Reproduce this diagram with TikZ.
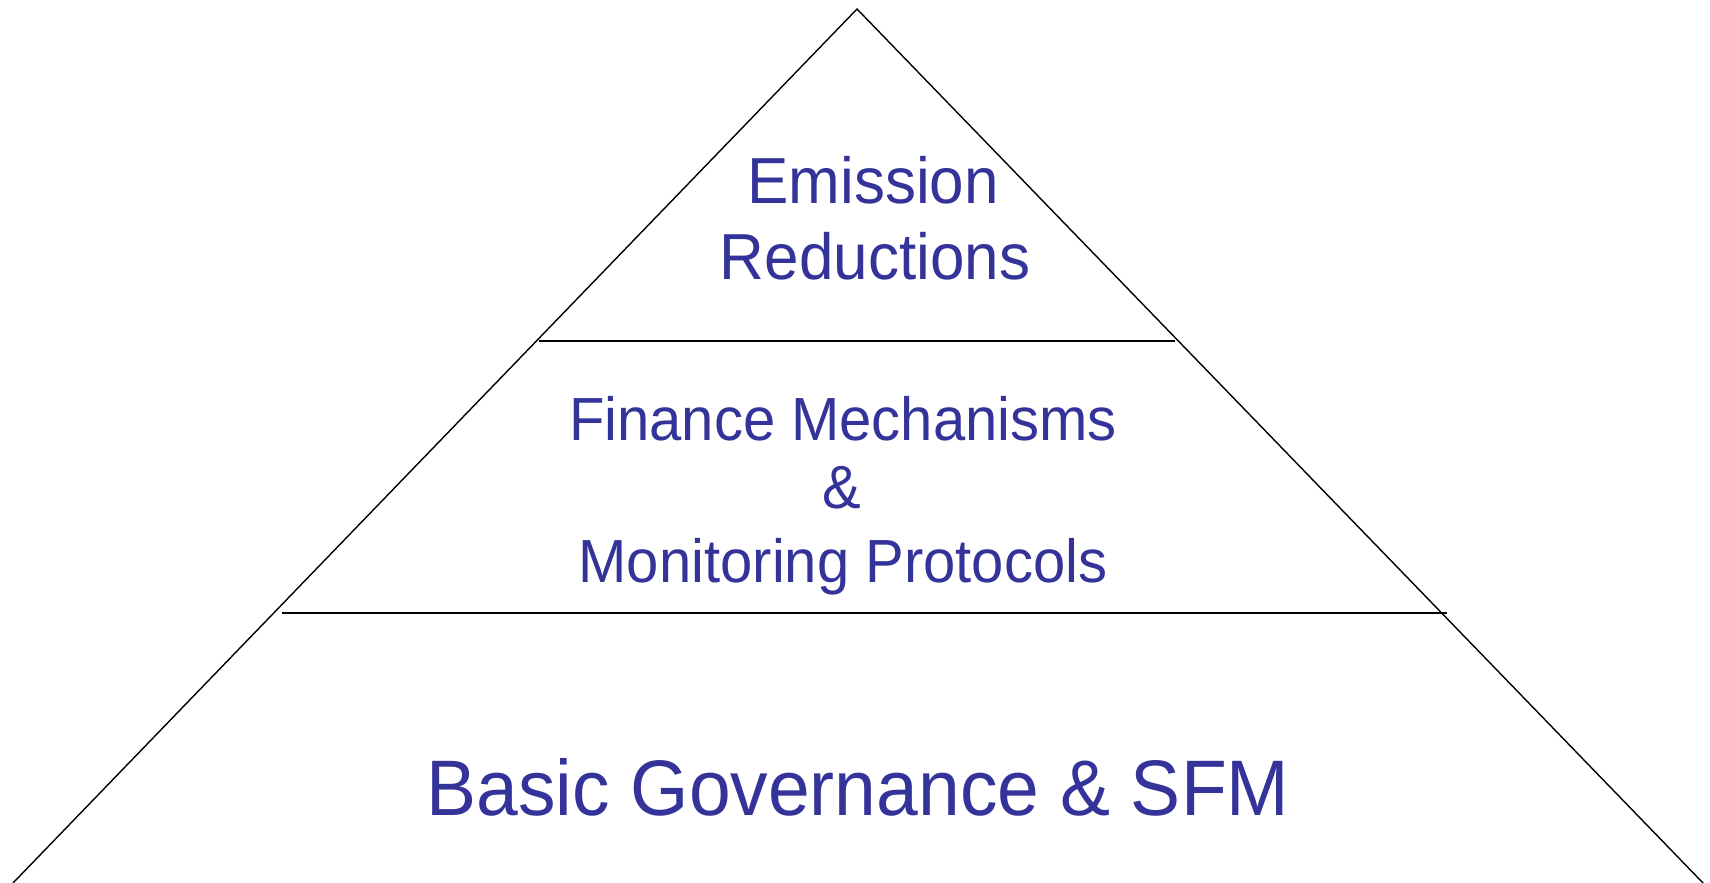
\documentclass[tikz,border=0pt]{standalone}
\usepackage{fontspec}
\setmainfont{Liberation Sans}
\definecolor{tiertext}{RGB}{51,51,153}
% slightly tall lettering
\newcommand{\tallline}[1]{\scalebox{1}[1.05]{#1}}
\begin{document}
\begin{tikzpicture}[x=1pt,y=-1pt,
  tier/.style={anchor=base, inner sep=0pt, text=tiertext,
    font=\fontsize{#1}{#1}\selectfont},
  edge/.style={line width=1.4pt, black},
  divider/.style={line width=2pt, black}]
\useasboundingbox (0,0) rectangle (1710,883);
% pyramid outline
\coordinate (apex) at (857,9);
\coordinate (bl) at (13,883);
\coordinate (br) at (1703,883);
\draw[edge] (bl) -- (apex) -- (br);
% tier dividers
\coordinate (d1l) at (539,341);
\coordinate (d1r) at (1175,341);
\coordinate (d2l) at (282,613);
\coordinate (d2r) at (1447,613);
\draw[divider] (d1l) -- (d1r);
\draw[divider] (d2l) -- (d2r);
% top tier
\node[tier=62] (em1) at (873,203) {\tallline{Emission}};
\node[tier=62] (em2) at (875,279) {\tallline{Reductions}};
% middle tier
\node[tier=58] (fm1) at (843,440) {\tallline{Finance Mechanisms}};
\node[tier=58] (fm2) at (842,508) {\tallline{\&}};
\node[tier=58] (fm3) at (843,582) {\tallline{Monitoring Protocols}};
% base tier
\node[tier=75] (bg) at (858,815) {\tallline{Basic Governance \& SFM}};
\end{tikzpicture}
\end{document}
